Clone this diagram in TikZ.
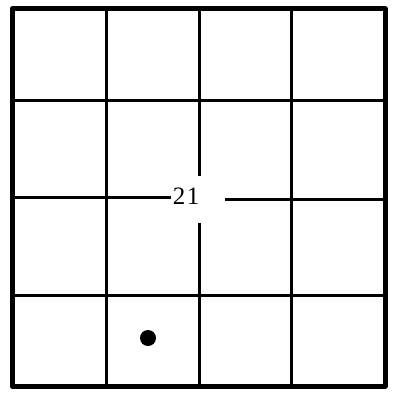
\documentclass[tikz,border=0pt]{standalone}
\usepackage{fontspec}
\setmainfont{Liberation Serif}
\begin{document}
\begin{tikzpicture}[x=1pt,y=-1pt,
  outer/.style={line width=5pt,line join=round},
  inner/.style={line width=3pt},
  lbl/.style={font=\fontsize{25}{25}\selectfont,inner sep=0pt}]
\useasboundingbox (0,0) rectangle (393,398);
% outer frame
\draw[outer] (12,9) rectangle (385,386);
% vertical inner lines
\draw[inner] (106,9) -- (106,386);
\draw[inner] (291,9) -- (291,386);
\draw[inner] (199,9) -- (199,176);
\draw[inner] (199,223) -- (199,386);
% horizontal inner lines
\draw[inner] (12,101) -- (385,101);
\draw[inner] (12,295) -- (385,295);
\draw[inner] (12,197) -- (171,197);
\draw[inner] (225,199) -- (385,199);
% label
\node[lbl] (n21) at (186,196.5) {2\kern1.5pt1};
% dot
\fill (148,338) circle (8);
\end{tikzpicture}
\end{document}
